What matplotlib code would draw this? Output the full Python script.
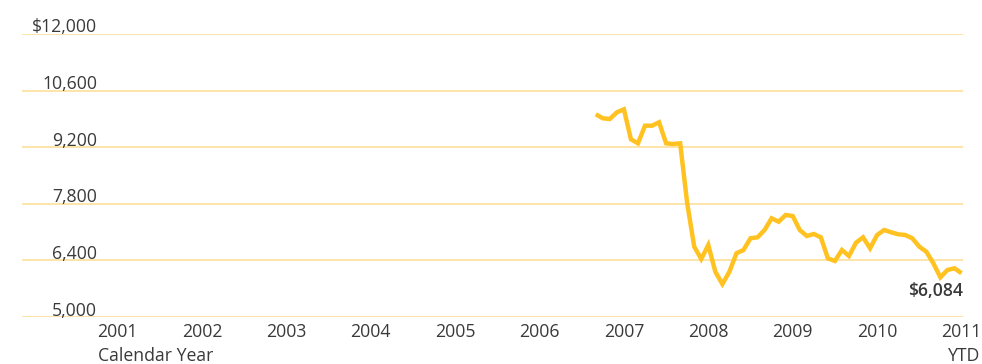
import matplotlib
matplotlib.use("Agg")
import matplotlib.pyplot as plt
import matplotlib.transforms as mtransforms
import numpy as np

# monthly account value, Sep 2006 through Jan 2011
START_YEAR = 2006 + 8 / 12
values = [
    10014, 9915, 9898, 10063, 10137, 9395, 9296, 9732, 9732, 9816,
    9296, 9279, 9296, 7812, 6739, 6435, 6781, 6120, 5816, 6120,
    6576, 6657, 6947, 6971, 7152, 7441, 7357, 7523, 7498, 7152,
    7004, 7053, 6971, 6452, 6385, 6657, 6509, 6838, 6971, 6699,
    7028, 7152, 7095, 7046, 7028, 6947, 6739, 6615, 6328, 5982,
    6163, 6205, 6084,
]
years = list(range(2001, 2012))
year_labels = [str(y) for y in years]
y_ticks = [5000, 6400, 7800, 9200, 10600, 12000]
y_labels = ["5,000", "6,400", "7,800", "9,200", "10,600", "$12,000"]
end_label = "$6,084"

LINE = "#FFC221"
GRID = "#FCE2A2"
TEXT = "#3a3a3a"
FONT = ["Open Sans", "DejaVu Sans"]
FS = 12.7

W, H = 982, 364
fig = plt.figure(figsize=(W / 100, H / 100), dpi=100)
ax = fig.add_axes([22 / W, (H - 317) / H, (963 - 22) / W, (317 - 34) / H])

x = START_YEAR + np.arange(len(values)) / 12
ax.plot(x, values, color=LINE, linewidth=3.2, solid_joinstyle="miter",
        solid_capstyle="butt", clip_on=False, zorder=3)

x0 = 2001 - (117.5 - 22) / 84.4
x1 = 2001 + (963 - 117.5) / 84.4
ax.set_xlim(x0, x1)
ax.set_ylim(5000, 12000)
for v in y_ticks:
    ax.axhline(v, color=GRID, linewidth=1.3, zorder=1)

for s in ax.spines.values():
    s.set_visible(False)
ax.set_xticks([])
ax.set_yticks([])

# y labels sit just above their gridlines
ytrans = mtransforms.blended_transform_factory(fig.transFigure, ax.transData)
lift = mtransforms.offset_copy(ytrans, fig=fig, x=0, y=1.5, units="dots")
for v, lab in zip(y_ticks, y_labels):
    ax.text(97 / W, v, lab, transform=lift, ha="right", va="baseline",
            fontsize=FS, color=TEXT, family=FONT)

# year labels below the axis
xtrans = mtransforms.blended_transform_factory(ax.transData, fig.transFigure)
for yr, lab in zip(years, year_labels):
    ax.text(yr, (H - 337) / H, lab, transform=xtrans, ha="center",
            va="baseline", fontsize=FS, color=TEXT, family=FONT)
fig.text(98 / W, (H - 361) / H, "Calendar Year", ha="left", va="baseline",
         fontsize=FS, color=TEXT, family=FONT)
fig.text(980 / W, (H - 361) / H, "YTD", ha="right", va="baseline",
         fontsize=FS, color=TEXT, family=FONT)

ax.annotate(end_label, xy=(x[-1], values[-1]), xytext=(1, -23),
            textcoords="offset pixels", ha="right", va="baseline",
            fontsize=FS, fontweight="semibold", color=TEXT, family=FONT)

fig.savefig("out.png", dpi=100)
